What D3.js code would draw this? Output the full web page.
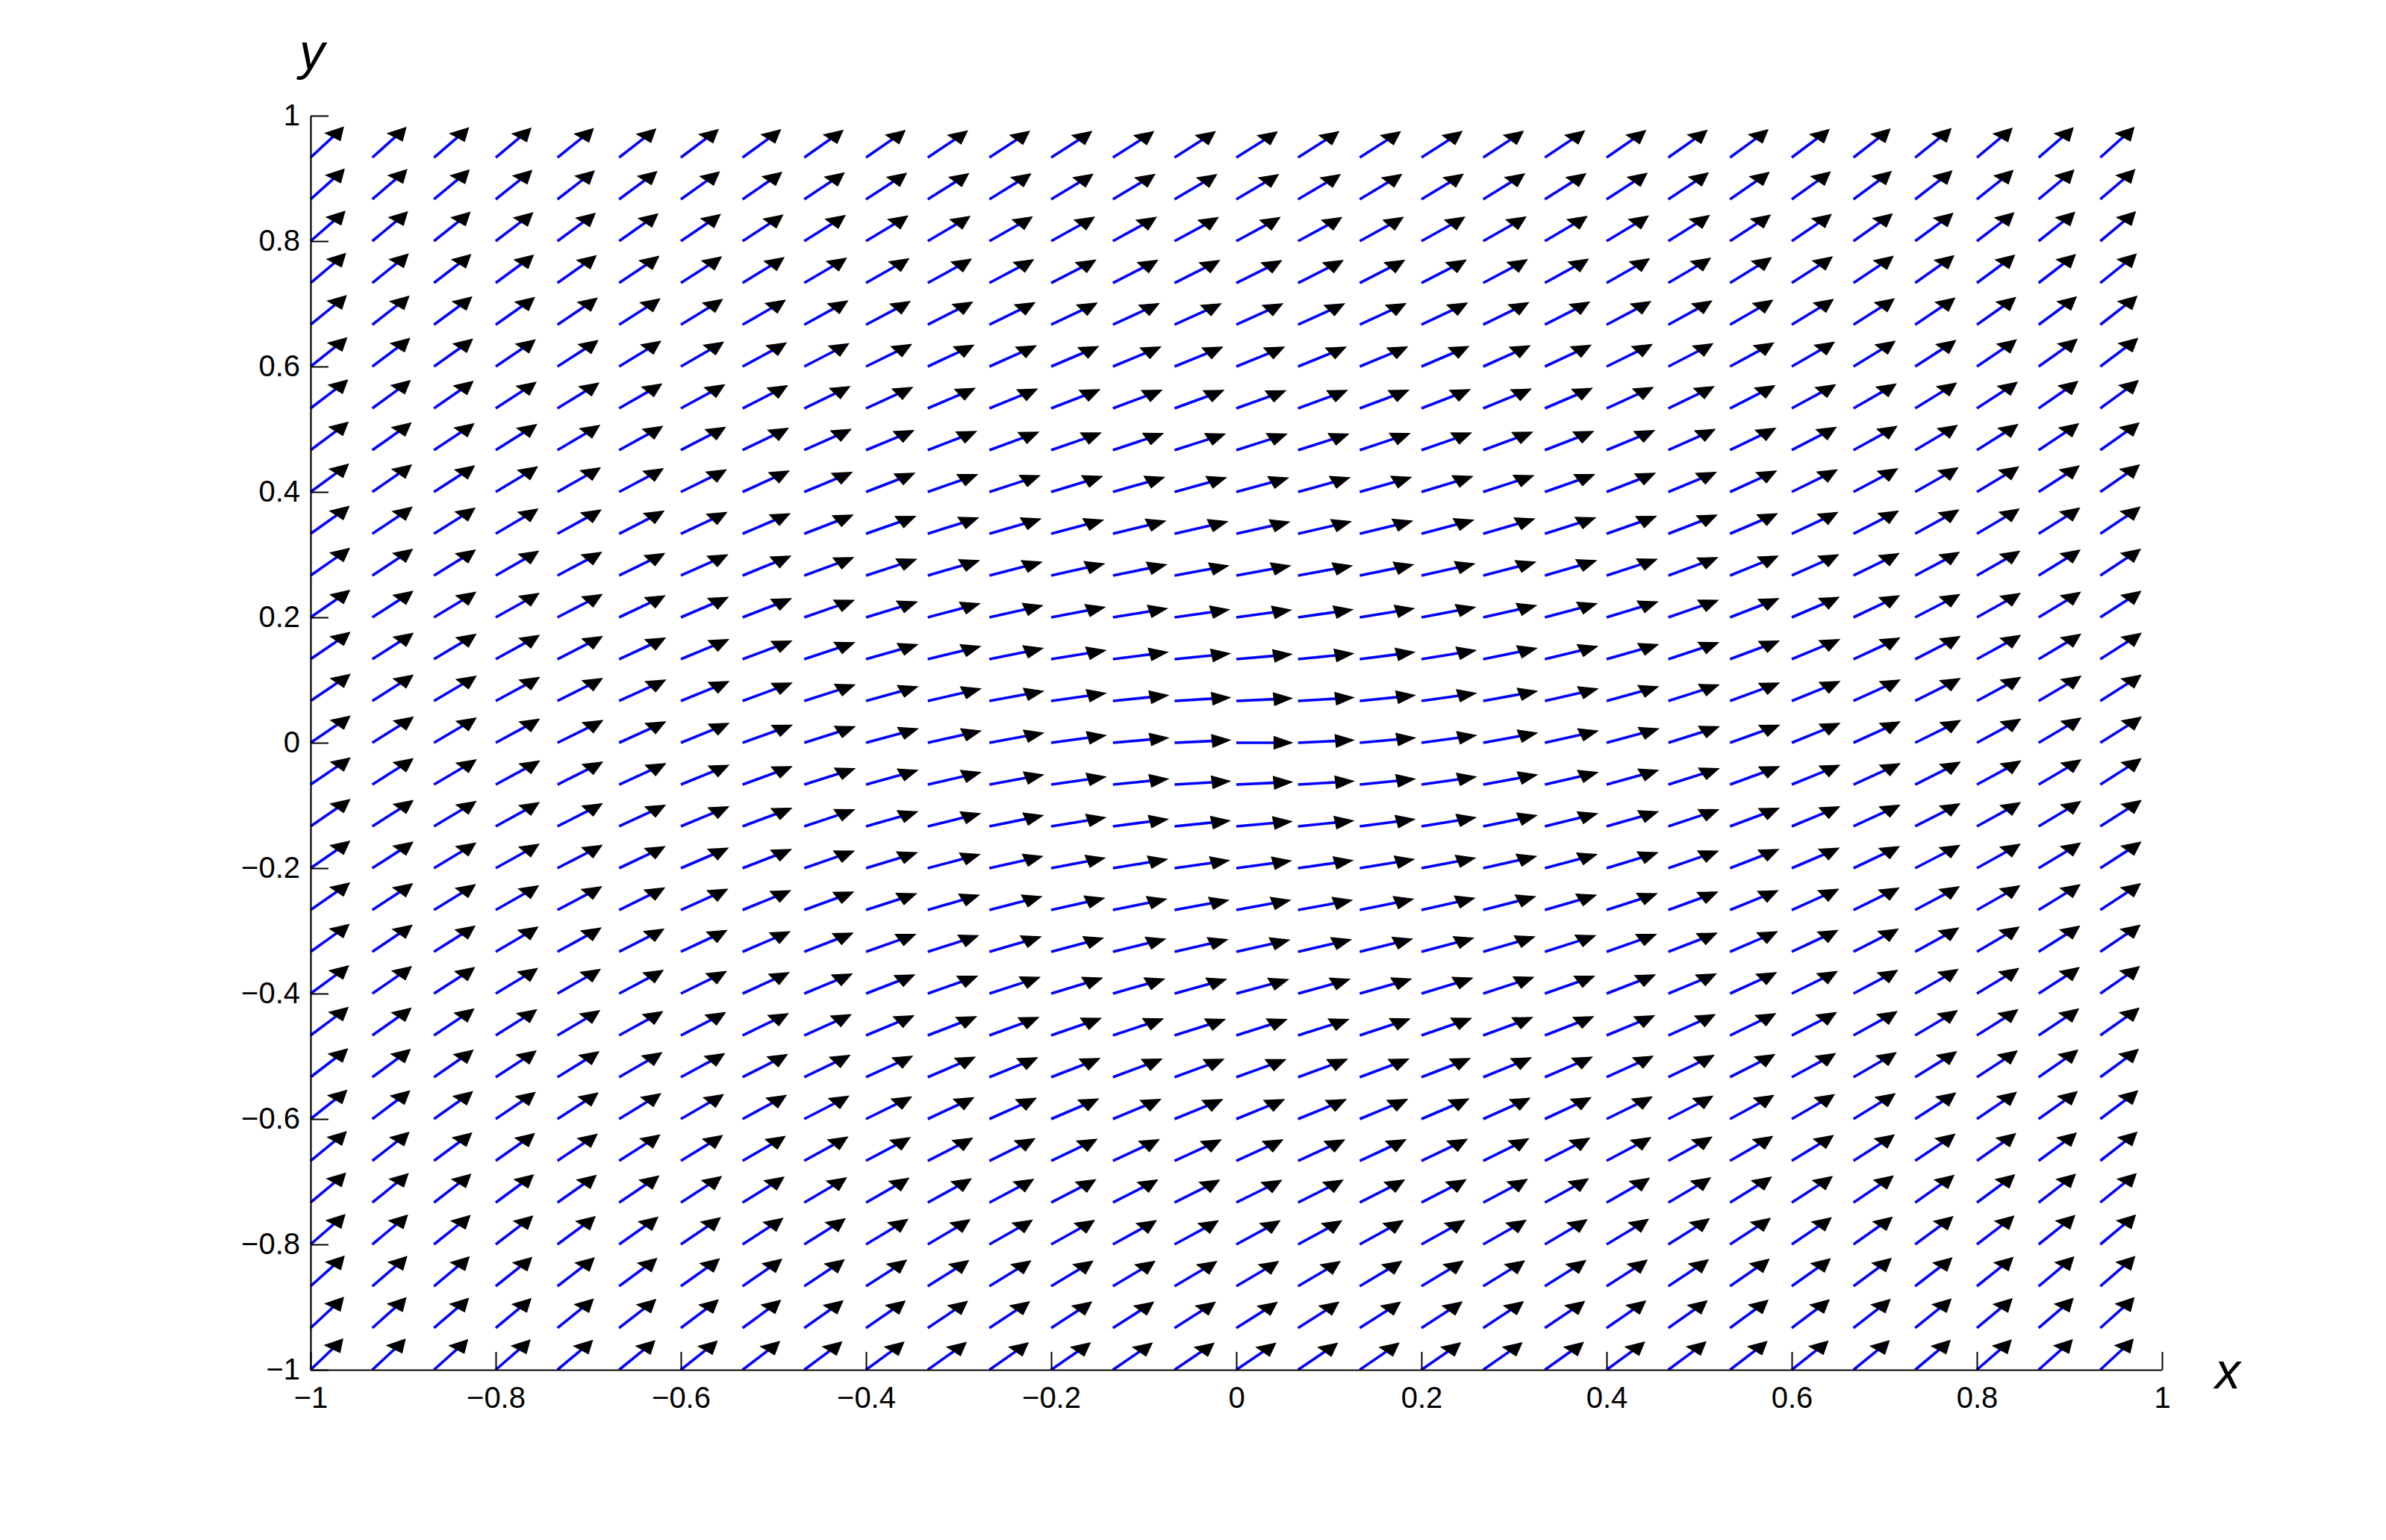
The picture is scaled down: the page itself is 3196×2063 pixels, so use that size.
<!DOCTYPE html>
<html>
<head>
<meta charset="utf-8">
<script src="https://cdn.jsdelivr.net/npm/d3@7"></script>
<style>
  html, body { margin: 0; padding: 0; background: #ffffff; }
  svg { display: block; }
  text { font-family: "Liberation Sans", Arial, Helvetica, sans-serif; }
</style>
</head>
<body>
<script>
// ---- grid of the direction field (x columns, y rows) ----
const xGrid = [-1, -0.9333, -0.8667, -0.8, -0.7333, -0.6667, -0.6, -0.5333, -0.4667, -0.4,
  -0.3333, -0.2667, -0.2, -0.1333, -0.0667, 0, 0.0667, 0.1333, 0.2, 0.2667,
  0.3333, 0.4, 0.4667, 0.5333, 0.6, 0.6667, 0.7333, 0.8, 0.8667, 0.9333];
const yGrid = [-1, -0.9333, -0.8667, -0.8, -0.7333, -0.6667, -0.6, -0.5333, -0.4667, -0.4,
  -0.3333, -0.2667, -0.2, -0.1333, -0.0667, 0, 0.0667, 0.1333, 0.2, 0.2667,
  0.3333, 0.4, 0.4667, 0.5333, 0.6, 0.6667, 0.7333, 0.8, 0.8667, 0.9333];

// ---- slope dy/dx read at each grid point; one row per yGrid value (bottom to top) ----
const slopeRows = [
  [1.41,1.37,1.32,1.28,1.24,1.20,1.17,1.13,1.10,1.08,1.05,1.03,1.02,1.01,1.00,1.00,1.00,1.01,1.02,1.03,1.05,1.08,1.10,1.13,1.17,1.20,1.24,1.28,1.32,1.37],
  [1.37,1.32,1.27,1.23,1.19,1.15,1.11,1.08,1.04,1.02,0.99,0.97,0.95,0.94,0.94,0.93,0.94,0.94,0.95,0.97,0.99,1.02,1.04,1.08,1.11,1.15,1.19,1.23,1.27,1.32],
  [1.32,1.27,1.23,1.18,1.14,1.09,1.05,1.02,0.98,0.95,0.93,0.91,0.89,0.88,0.87,0.87,0.87,0.88,0.89,0.91,0.93,0.95,0.98,1.02,1.05,1.09,1.14,1.18,1.23,1.27],
  [1.28,1.23,1.18,1.13,1.09,1.04,1.00,0.96,0.93,0.89,0.87,0.84,0.82,0.81,0.80,0.80,0.80,0.81,0.82,0.84,0.87,0.89,0.93,0.96,1.00,1.04,1.09,1.13,1.18,1.23],
  [1.24,1.19,1.14,1.09,1.04,0.99,0.95,0.91,0.87,0.84,0.81,0.78,0.76,0.75,0.74,0.73,0.74,0.75,0.76,0.78,0.81,0.84,0.87,0.91,0.95,0.99,1.04,1.09,1.14,1.19],
  [1.20,1.15,1.09,1.04,0.99,0.94,0.90,0.85,0.81,0.78,0.75,0.72,0.70,0.68,0.67,0.67,0.67,0.68,0.70,0.72,0.75,0.78,0.81,0.85,0.90,0.94,0.99,1.04,1.09,1.15],
  [1.17,1.11,1.05,1.00,0.95,0.90,0.85,0.80,0.76,0.72,0.69,0.66,0.63,0.61,0.60,0.60,0.60,0.61,0.63,0.66,0.69,0.72,0.76,0.80,0.85,0.90,0.95,1.00,1.05,1.11],
  [1.13,1.08,1.02,0.96,0.91,0.85,0.80,0.75,0.71,0.67,0.63,0.60,0.57,0.55,0.54,0.53,0.54,0.55,0.57,0.60,0.63,0.67,0.71,0.75,0.80,0.85,0.91,0.96,1.02,1.08],
  [1.10,1.04,0.98,0.93,0.87,0.81,0.76,0.71,0.66,0.61,0.57,0.54,0.51,0.49,0.47,0.47,0.47,0.49,0.51,0.54,0.57,0.61,0.66,0.71,0.76,0.81,0.87,0.93,0.98,1.04],
  [1.08,1.02,0.95,0.89,0.84,0.78,0.72,0.67,0.61,0.57,0.52,0.48,0.45,0.42,0.41,0.40,0.41,0.42,0.45,0.48,0.52,0.57,0.61,0.67,0.72,0.78,0.84,0.89,0.95,1.02],
  [1.05,0.99,0.93,0.87,0.81,0.75,0.69,0.63,0.57,0.52,0.47,0.43,0.39,0.36,0.34,0.33,0.34,0.36,0.39,0.43,0.47,0.52,0.57,0.63,0.69,0.75,0.81,0.87,0.93,0.99],
  [1.03,0.97,0.91,0.84,0.78,0.72,0.66,0.60,0.54,0.48,0.43,0.38,0.33,0.30,0.27,0.27,0.27,0.30,0.33,0.38,0.43,0.48,0.54,0.60,0.66,0.72,0.78,0.84,0.91,0.97],
  [1.02,0.95,0.89,0.82,0.76,0.70,0.63,0.57,0.51,0.45,0.39,0.33,0.28,0.24,0.21,0.20,0.21,0.24,0.28,0.33,0.39,0.45,0.51,0.57,0.63,0.70,0.76,0.82,0.89,0.95],
  [1.01,0.94,0.88,0.81,0.75,0.68,0.61,0.55,0.49,0.42,0.36,0.30,0.24,0.19,0.15,0.13,0.15,0.19,0.24,0.30,0.36,0.42,0.49,0.55,0.61,0.68,0.75,0.81,0.88,0.94],
  [1.00,0.94,0.87,0.80,0.74,0.67,0.60,0.54,0.47,0.41,0.34,0.27,0.21,0.15,0.09,0.07,0.09,0.15,0.21,0.27,0.34,0.41,0.47,0.54,0.60,0.67,0.74,0.80,0.87,0.94],
  [1.00,0.93,0.87,0.80,0.73,0.67,0.60,0.53,0.47,0.40,0.33,0.27,0.20,0.13,0.07,0.00,0.07,0.13,0.20,0.27,0.33,0.40,0.47,0.53,0.60,0.67,0.73,0.80,0.87,0.93],
  [1.00,0.94,0.87,0.80,0.74,0.67,0.60,0.54,0.47,0.41,0.34,0.27,0.21,0.15,0.09,0.07,0.09,0.15,0.21,0.27,0.34,0.41,0.47,0.54,0.60,0.67,0.74,0.80,0.87,0.94],
  [1.01,0.94,0.88,0.81,0.75,0.68,0.61,0.55,0.49,0.42,0.36,0.30,0.24,0.19,0.15,0.13,0.15,0.19,0.24,0.30,0.36,0.42,0.49,0.55,0.61,0.68,0.75,0.81,0.88,0.94],
  [1.02,0.95,0.89,0.82,0.76,0.70,0.63,0.57,0.51,0.45,0.39,0.33,0.28,0.24,0.21,0.20,0.21,0.24,0.28,0.33,0.39,0.45,0.51,0.57,0.63,0.70,0.76,0.82,0.89,0.95],
  [1.03,0.97,0.91,0.84,0.78,0.72,0.66,0.60,0.54,0.48,0.43,0.38,0.33,0.30,0.27,0.27,0.27,0.30,0.33,0.38,0.43,0.48,0.54,0.60,0.66,0.72,0.78,0.84,0.91,0.97],
  [1.05,0.99,0.93,0.87,0.81,0.75,0.69,0.63,0.57,0.52,0.47,0.43,0.39,0.36,0.34,0.33,0.34,0.36,0.39,0.43,0.47,0.52,0.57,0.63,0.69,0.75,0.81,0.87,0.93,0.99],
  [1.08,1.02,0.95,0.89,0.84,0.78,0.72,0.67,0.61,0.57,0.52,0.48,0.45,0.42,0.41,0.40,0.41,0.42,0.45,0.48,0.52,0.57,0.61,0.67,0.72,0.78,0.84,0.89,0.95,1.02],
  [1.10,1.04,0.98,0.93,0.87,0.81,0.76,0.71,0.66,0.61,0.57,0.54,0.51,0.49,0.47,0.47,0.47,0.49,0.51,0.54,0.57,0.61,0.66,0.71,0.76,0.81,0.87,0.93,0.98,1.04],
  [1.13,1.08,1.02,0.96,0.91,0.85,0.80,0.75,0.71,0.67,0.63,0.60,0.57,0.55,0.54,0.53,0.54,0.55,0.57,0.60,0.63,0.67,0.71,0.75,0.80,0.85,0.91,0.96,1.02,1.08],
  [1.17,1.11,1.05,1.00,0.95,0.90,0.85,0.80,0.76,0.72,0.69,0.66,0.63,0.61,0.60,0.60,0.60,0.61,0.63,0.66,0.69,0.72,0.76,0.80,0.85,0.90,0.95,1.00,1.05,1.11],
  [1.20,1.15,1.09,1.04,0.99,0.94,0.90,0.85,0.81,0.78,0.75,0.72,0.70,0.68,0.67,0.67,0.67,0.68,0.70,0.72,0.75,0.78,0.81,0.85,0.90,0.94,0.99,1.04,1.09,1.15],
  [1.24,1.19,1.14,1.09,1.04,0.99,0.95,0.91,0.87,0.84,0.81,0.78,0.76,0.75,0.74,0.73,0.74,0.75,0.76,0.78,0.81,0.84,0.87,0.91,0.95,0.99,1.04,1.09,1.14,1.19],
  [1.28,1.23,1.18,1.13,1.09,1.04,1.00,0.96,0.93,0.89,0.87,0.84,0.82,0.81,0.80,0.80,0.80,0.81,0.82,0.84,0.87,0.89,0.93,0.96,1.00,1.04,1.09,1.13,1.18,1.23],
  [1.32,1.27,1.23,1.18,1.14,1.09,1.05,1.02,0.98,0.95,0.93,0.91,0.89,0.88,0.87,0.87,0.87,0.88,0.89,0.91,0.93,0.95,0.98,1.02,1.05,1.09,1.14,1.18,1.23,1.27],
  [1.37,1.32,1.27,1.23,1.19,1.15,1.11,1.08,1.04,1.02,0.99,0.97,0.95,0.94,0.94,0.93,0.94,0.94,0.95,0.97,0.99,1.02,1.04,1.08,1.11,1.15,1.19,1.23,1.27,1.32]
];

// ---- axis ticks ----
const xTicks = [-1, -0.8, -0.6, -0.4, -0.2, 0, 0.2, 0.4, 0.6, 0.8, 1];
const xTickLabels = ["\u22121", "\u22120.8", "\u22120.6", "\u22120.4", "\u22120.2", "0", "0.2", "0.4", "0.6", "0.8", "1"];
const yTicks = [-1, -0.8, -0.6, -0.4, -0.2, 0, 0.2, 0.4, 0.6, 0.8, 1];
const yTickLabels = ["\u22121", "\u22120.8", "\u22120.6", "\u22120.4", "\u22120.2", "0", "0.2", "0.4", "0.6", "0.8", "1"];
const xLabel = "x";
const yLabel = "y";

// ---- layout ----
const W = 3196, H = 2063;
const plot = { left: 416, right: 2896, top: 155, bottom: 1835 };

const svg = d3.select("body").append("svg")
  .attr("width", W).attr("height", H)
  .attr("viewBox", `0 0 ${W} ${H}`);
svg.append("rect").attr("width", W).attr("height", H).attr("fill", "#ffffff");

const x = d3.scaleLinear().domain([-1, 1]).range([plot.left, plot.right]);
const y = d3.scaleLinear().domain([-1, 1]).range([plot.bottom, plot.top]);

// ---- arrows (unit direction scaled to 0.9 of grid spacing, in data units) ----
const step = xGrid[1] - xGrid[0];
const arrowLen = 0.9 * step;
const headLen = 0.32 * arrowLen;
const headHalf = 0.165 * arrowLen;

const arrows = [];
yGrid.forEach((yv, j) => {
  xGrid.forEach((xv, i) => {
    const s = slopeRows[j][i];
    const n = Math.sqrt(1 + s * s);
    const ux = 1 / n, uy = s / n;
    const tx = xv + arrowLen * ux, ty = yv + arrowLen * uy;
    const bx = tx - headLen * ux, by = ty - headLen * uy;
    arrows.push({
      x0: xv, y0: yv, tx, ty, bx, by,
      c1x: bx - headHalf * uy, c1y: by + headHalf * ux,
      c2x: bx + headHalf * uy, c2y: by - headHalf * ux
    });
  });
});

const gArrows = svg.append("g");
gArrows.selectAll("line.shaft").data(arrows).join("line")
  .attr("class", "shaft")
  .attr("x1", d => x(d.x0)).attr("y1", d => y(d.y0))
  .attr("x2", d => x(d.bx)).attr("y2", d => y(d.by))
  .attr("stroke", "#0000ff").attr("stroke-width", 3.6);

gArrows.selectAll("path.head").data(arrows).join("path")
  .attr("class", "head")
  .attr("d", d => `M${x(d.tx)},${y(d.ty)}L${x(d.c1x)},${y(d.c1y)}L${x(d.c2x)},${y(d.c2y)}Z`)
  .attr("fill", "#000000").attr("stroke", "#000000").attr("stroke-width", 1.4)
  .attr("stroke-linejoin", "miter");

// ---- axes ----
const fontSize = 40;
const xAxis = d3.axisBottom(x).tickValues(xTicks)
  .tickFormat((d, i) => xTickLabels[i])
  .tickSizeInner(-24).tickSizeOuter(0).tickPadding(23);
const yAxis = d3.axisLeft(y).tickValues(yTicks)
  .tickFormat((d, i) => yTickLabels[i])
  .tickSizeInner(-24).tickSizeOuter(0).tickPadding(14);

const gx = svg.append("g").attr("transform", `translate(0,${plot.bottom})`).call(xAxis);
const gy = svg.append("g").attr("transform", `translate(${plot.left},0)`).call(yAxis);

[gx, gy].forEach(g => {
  g.attr("font-family", null).attr("font-size", null);
  g.select(".domain").attr("stroke", "#000").attr("stroke-width", 2.2);
  g.selectAll(".tick line").attr("stroke", "#000").attr("stroke-width", 2);
  g.selectAll(".tick text")
    .style("font-family", "'Liberation Sans', Arial, Helvetica, sans-serif")
    .style("font-size", fontSize + "px").attr("fill", "#000");
});

// ---- axis labels ----
svg.append("text")
  .attr("x", 2984).attr("y", 1860)
  .attr("text-anchor", "middle")
  .style("font-size", "68px").style("font-style", "italic")
  .attr("fill", "#000").text(xLabel);

svg.append("text")
  .attr("x", 418).attr("y", 93)
  .attr("text-anchor", "middle")
  .style("font-size", "68px").style("font-style", "italic")
  .attr("fill", "#000").text(yLabel);
</script>
</body>
</html>
